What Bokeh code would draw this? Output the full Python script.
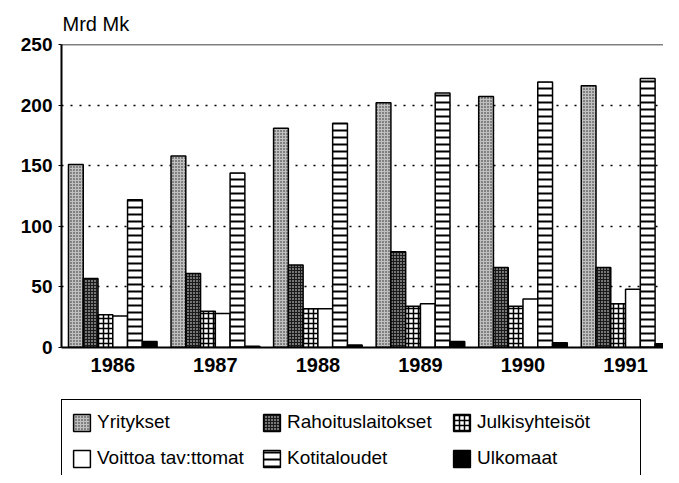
from bokeh.plotting import figure
from bokeh.layouts import column
from bokeh.models import ColumnDataSource, FixedTicker, Legend, LegendItem, Span
from bokeh.embed import file_html
from bokeh.resources import INLINE

years = ["1986", "1987", "1988", "1989", "1990", "1991"]
yritykset = [151, 158, 181, 202, 207, 216]
rahoituslaitokset = [57, 61, 68, 79, 66, 66]
julkisyhteisot = [27, 30, 32, 34, 34, 36]
voittoa = [26, 28, 32, 36, 40, 48]
kotitaloudet = [122, 144, 185, 210, 219, 222]
ulkomaat = [5, 1, 2, 5, 4, 3]

series_names = ["Yritykset", "Rahoituslaitokset", "Julkisyhteisöt",
                "Voittoa tav:ttomat", "Kotitaloudet", "Ulkomaat"]
series_values = [yritykset, rahoituslaitokset, julkisyhteisot, voittoa, kotitaloudet, ulkomaat]
y_ticks = [0, 50, 100, 150, 200, 250]

styles = [
    dict(fill_color="#c0c0c0", hatch_pattern=".", hatch_scale=3, hatch_weight=1.2, hatch_color="#222222"),
    dict(fill_color="#1a1a1a", hatch_pattern=".", hatch_scale=3, hatch_weight=1.1, hatch_color="#ffffff"),
    dict(fill_color="#ffffff", hatch_pattern="+", hatch_scale=5, hatch_weight=1.5, hatch_color="#000000"),
    dict(fill_color="#ffffff"),
    dict(fill_color="#ffffff", hatch_pattern="-", hatch_scale=7, hatch_weight=2, hatch_color="#000000"),
    dict(fill_color="#000000"),
]

FONT = "Liberation Sans"

p = figure(width=663, height=374, x_range=(-0.5, 5.37), y_range=(0, 250),
           output_backend="svg", toolbar_location=None,
           min_border_left=44, min_border_right=0, min_border_top=43, min_border_bottom=0)
p.outline_line_color = None
p.background_fill_color = "white"

p.title.text = "Mrd Mk"
p.title.align = "left"
p.title.offset = 1
p.title.standoff = 20
p.title.text_font = FONT
p.title.text_font_size = "20px"
p.title.text_font_style = "normal"
p.title.text_color = "black"

bar_w = 0.144
n = len(series_names)
for k, (name, vals, st) in enumerate(zip(series_names, series_values, styles)):
    off = (k - (n - 1) / 2) * bar_w
    src = ColumnDataSource(dict(x=[i + off for i in range(len(years))], top=vals))
    p.vbar(x="x", top="top", width=bar_w, bottom=0, source=src,
           line_color="black", line_width=1.5, **st)

# top frame line
p.add_layout(Span(location=250, dimension="width", line_color="black", line_width=1.5))

# grid
p.xgrid.visible = False
p.ygrid.ticker = FixedTicker(ticks=[50, 100, 150, 200])
p.ygrid.grid_line_color = "black"
p.ygrid.grid_line_width = 1.6
p.ygrid.grid_line_dash = "2 7"

# y axis
p.yaxis.ticker = FixedTicker(ticks=y_ticks)
p.yaxis.minor_tick_line_color = None
p.yaxis.major_tick_out = 3
p.yaxis.major_tick_in = 0
p.yaxis.major_label_standoff = 6
p.yaxis.axis_line_width = 2
p.yaxis.major_label_text_font = FONT
p.yaxis.major_label_text_font_size = "19px"
p.yaxis.major_label_text_font_style = "bold"
p.yaxis.major_label_text_color = "black"

# x axis
p.xaxis.ticker = FixedTicker(ticks=list(range(len(years))))
p.xaxis.major_label_overrides = {i: y for i, y in enumerate(years)}
p.xaxis.minor_tick_line_color = None
p.xaxis.major_tick_line_color = None
p.xaxis.major_tick_out = 0
p.xaxis.major_tick_in = 0
p.xaxis.axis_line_width = 2
p.xaxis.major_label_standoff = 10
p.xaxis.major_label_text_font = FONT
p.xaxis.major_label_text_font_size = "20px"
p.xaxis.major_label_text_font_style = "bold"
p.xaxis.major_label_text_color = "black"

# legend panel
q = figure(width=663, height=101, x_range=(0, 1), y_range=(0, 1),
           output_backend="svg", toolbar_location=None,
           min_border_left=61, min_border_right=0, min_border_top=25, min_border_bottom=0)
q.axis.visible = False
q.grid.visible = False
q.outline_line_color = None
legend_renderers = []
for st in styles:
    src = ColumnDataSource(dict(x=[float("nan")], top=[float("nan")]))
    r = q.vbar(x="x", top="top", width=0.1, source=src,
               line_color="black", line_width=1.5, **st)
    legend_renderers.append(r)

legend = Legend(items=[LegendItem(label=nm, renderers=[r], index=0)
                       for nm, r in zip(series_names, legend_renderers)],
                location="top_left", orientation="horizontal", ncols=3,
                margin=0, padding=9, spacing=10,
                glyph_width=21, glyph_height=21, label_width=154, label_height=26,
                label_standoff=5, label_text_font=FONT, label_text_font_size="19px",
                label_text_color="black",
                border_line_color="black", border_line_alpha=1, border_line_width=1.5,
                background_fill_alpha=1)
q.add_layout(legend, "center")

layout = column(p, q, spacing=0)
open("out.html", "w").write(file_html(layout, INLINE))
